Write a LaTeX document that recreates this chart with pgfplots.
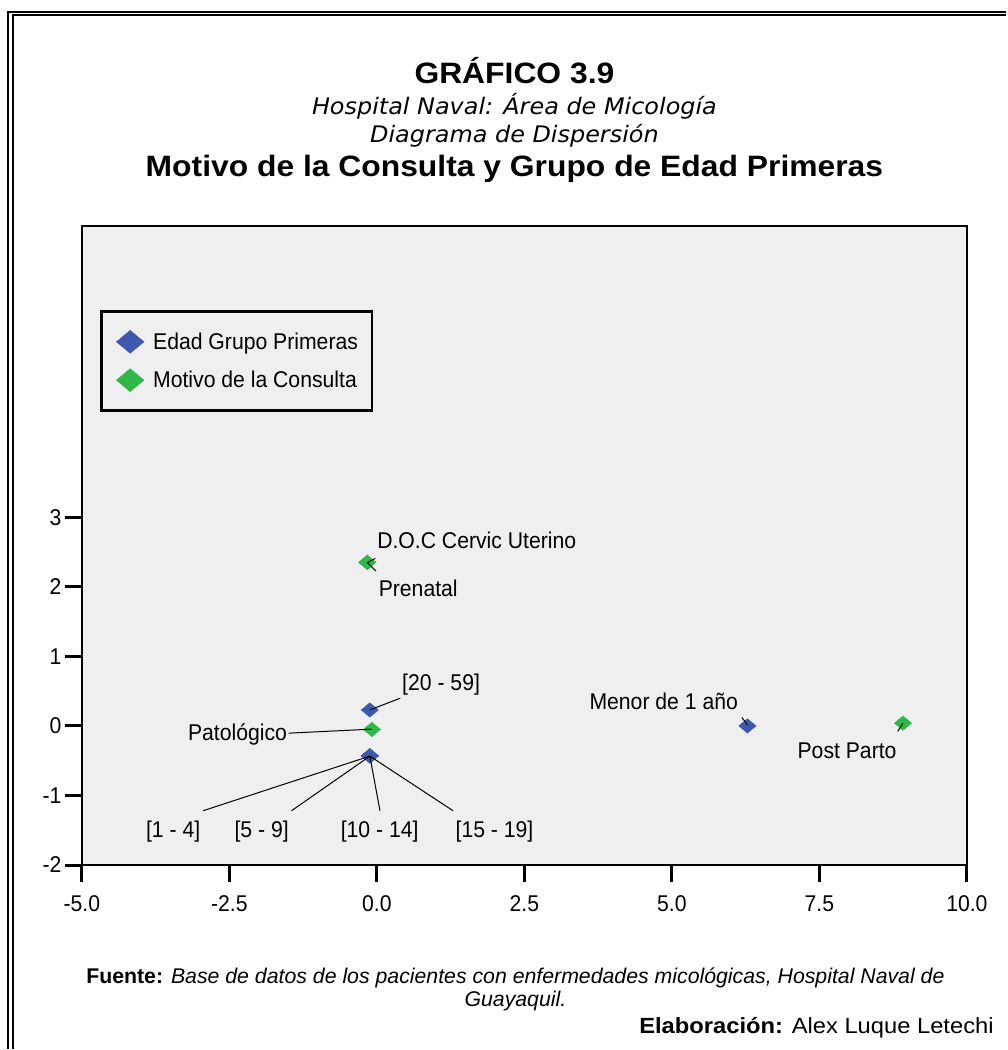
\documentclass[border=0pt]{standalone}
\usepackage{pgfplots}
\pgfplotsset{compat=1.18}
\usepackage{fontspec}
\setmainfont{Liberation Sans}
\newfontfamily\lbl[FakeStretch=0.93]{Liberation Sans}
\newfontfamily\ttl[FakeStretch=1.08]{Liberation Sans}
\newfontfamily\sub[FakeStretch=1.05]{DejaVu Sans}
\newfontfamily\elab[FakeStretch=1.08]{Liberation Sans}
\definecolor{bgc}{RGB}{239,239,239}
\definecolor{ablue}{RGB}{62,88,176}
\definecolor{agreen}{RGB}{46,184,74}
\newcommand\lblf{\lbl\fontsize{22.8}{27}\selectfont}
\pgfplotsset{mylegimg/.style={legend image code/.code={%
  \path[draw=none,fill=none] (0pt,-19.2pt) rectangle (38pt,19.2pt);
  \draw[##1] plot coordinates {(19pt,0pt)};}}}

\begin{document}
\begin{tikzpicture}
\path (0pt,0pt) rectangle (1007pt,1050pt);
\begin{axis}[
  at={(82pt,184pt)}, anchor=south west,
  scale only axis, width=886pt, height=640pt,
  xmin=-5, xmax=10, ymin=-2, ymax=7.195,
  axis background/.style={fill=bgc},
  axis line style={line width=2pt},
  xtick={-5,-2.5,0,2.5,5,7.5,10},
  xticklabels={-5.0,-2.5,0.0,2.5,5.0,7.5,10.0},
  ytick={-2,-1,0,1,2,3},
  yticklabels={-2,-1,0,1,2,3},
  xtick pos=left, ytick pos=left,
  tick align=outside,
  major tick length=17pt,
  tick style={line width=3pt, black},
  tick label style={font=\lblf},
  xticklabel style={yshift=-10pt},
  clip=false,
  legend cell align=left,
  legend style={at={(0.0203,0.8677)}, anchor=north west,
    draw=black, line width=2.7pt, fill=bgc,
    inner xsep=10pt, inner ysep=11pt, row sep=0pt,
    font=\lblf, nodes={inner xsep=4pt, inner ysep=0pt}},
  legend image post style={mark size=11.5pt, line width=0.4pt},
]
\addplot[only marks, mark=diamond*, color=ablue, mark size=7.2pt,
  mark options={xscale=1.6, line width=0.4pt}, mylegimg]
  coordinates {(-0.12,0.23) (-0.12,-0.43) (-0.12,-0.43) (-0.12,-0.43) (-0.12,-0.43) (6.28,0.00)};
\addlegendentry{Edad Grupo Primeras}
\addplot[only marks, mark=diamond*, color=agreen, mark size=7.2pt,
  mark options={xscale=1.6, line width=0.4pt}, mylegimg]
  coordinates {(-0.163,2.353) (-0.163,2.353) (-0.085,-0.05) (8.917,0.04)};
\addlegendentry{Motivo de la Consulta}
\end{axis}

\begin{scope}[x=1pt, y=-1pt, shift={(0pt,1050pt)}]
% frame
\draw[line width=2.4pt] (8.3,1050) -- (8.3,11.8) -- (1007,11.8);
\draw[line width=2pt] (12.8,1050) -- (12.8,15.5) -- (1007,15.5);
% titles
\node[anchor=base, inner sep=0pt] at (515,83.5) {\ttl\bfseries\fontsize{29.5}{34}\selectfont GRÁFICO 3.9};
\node[anchor=base, inner sep=0pt] at (515,115) {\sub\itshape\fontsize{22.8}{26}\selectfont Hospital Naval: Área de Micología};
\node[anchor=base, inner sep=0pt] at (515,143) {\sub\itshape\fontsize{22.8}{26}\selectfont Diagrama de Dispersión};
\node[anchor=base, inner sep=0pt] at (515,176.5) {\ttl\bfseries\fontsize{29.5}{34}\selectfont Motivo de la Consulta y Grupo de Edad Primeras};
% point labels
\begin{scope}[every node/.style={inner sep=0pt, font=\lblf}]
\node[anchor=base west] at (377.5,549) {D.O.C Cervic Uterino};
\node[anchor=base west] at (379,597) {Prenatal};
\node[anchor=base west] at (402.5,691) {[20 - 59]};
\node[anchor=base east] at (287.5,741.7) {Patológico};
\node[anchor=base west] at (146,838) {[1 - 4]};
\node[anchor=base west] at (234.6,838) {[5 - 9]};
\node[anchor=base west] at (341,838) {[10 - 14]};
\node[anchor=base west] at (456,838) {[15 - 19]};
\node[anchor=base west] at (590,710) {Menor de 1 año};
\node[anchor=base west] at (798.3,759.3) {Post Parto};
\end{scope}
% leader lines
\begin{scope}[line width=1pt]
\draw (375.7,559) -- (367.9,563.3) -- (376.4,571.7);
\draw (400.7,699) -- (370.4,710.7);
\draw (289,734) -- (372,730);
\draw (203.2,811.7) -- (370.3,757);
\draw (291.8,811.7) -- (370.3,757);
\draw (380.4,811.7) -- (370.3,757);
\draw (453.6,811.7) -- (370.3,757);
\draw (742.7,718.3) -- (748.3,725.7);
\draw (898.7,732.3) -- (904,724);
\end{scope}
% footer
\node[anchor=base, inner sep=0pt] at (516,985) {\fontsize{21.3}{25}\selectfont\textbf{Fuente:} \textit{Base de datos de los pacientes con enfermedades micológicas, Hospital Naval de}};
\node[anchor=base, inner sep=0pt] at (516,1008) {\fontsize{21.3}{25}\selectfont\textit{Guayaquil.}};
\node[anchor=base east, inner sep=0pt] at (995,1035) {\elab\fontsize{22}{26}\selectfont\textbf{Elaboración:} Alex Luque Letechi};
\end{scope}
\end{tikzpicture}
\end{document}
